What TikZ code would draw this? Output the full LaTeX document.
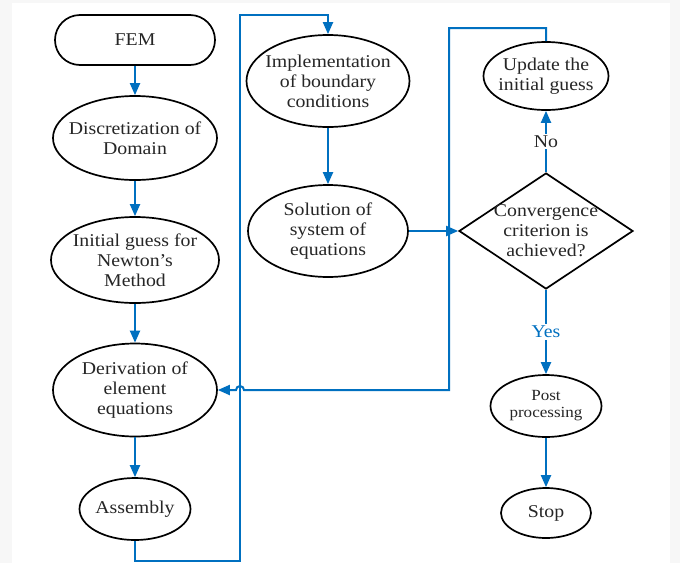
\documentclass[tikz,border=0pt]{standalone}
\usepackage{fontspec}
\setmainfont{Liberation Serif}[FakeStretch=1.1]
\usetikzlibrary{arrows.meta}
\usetikzlibrary{positioning}
\usetikzlibrary{shapes}
\definecolor{flowBlue}{RGB}{0,112,192}

\begin{document}
\begin{tikzpicture}[x=1pt,y=1pt,
    oval/.style={draw,ellipse,line width=1.7pt,inner sep=-30pt,align=center,text=black!85,font=\fontsize{18}{20}\selectfont},
    arrowLine/.style={draw=flowBlue,line width=2pt,-{Triangle[length=12pt,width=10pt]}}]
          \fill[gray!6] (0,0) rectangle (680,-563);
          \fill[white] (12,-3) rectangle (670,-563);
          \useasboundingbox (0,0) rectangle (680,-563);
          % first column
          \node[draw,rectangle,rounded corners=25pt,line width=1.7pt,minimum width=160pt,minimum height=50pt,text=black!85,font=\fontsize{18}{20}\selectfont] (fem) at (135,-40) {FEM};
          \node[oval,below of=fem,node distance=98pt,minimum width=164pt,minimum height=84pt] (discretization) {Discretization of\\Domain};
          \node[oval,below of=discretization,node distance=122pt,minimum width=168pt,minimum height=86pt] (initialGuess) {Initial guess for\\Newton's\\Method};
          \node[oval,below of=initialGuess,node distance=130pt,minimum width=164pt,minimum height=93pt] (derivation) {Derivation of\\element\\equations};
          \node[oval,below of=derivation,node distance=119pt,minimum width=111pt,minimum height=62pt] (assembly) {Assembly};
          % second column
          \node[oval,minimum width=163pt,minimum height=92pt] (boundaryCond) at (328,-81) {Implementation\\of boundary\\conditions};
          \node[oval,below of=boundaryCond,node distance=150pt,minimum width=160pt,minimum height=92pt] (solution) {Solution of\\system of\\equations};
          % third column
          \node[oval,minimum width=125pt,minimum height=68pt] (updateGuess) at (546,-76) {Update the\\initial guess};
          \node[oval,diamond,below of=updateGuess,node distance=155pt,minimum width=174pt,minimum height=116pt] (convergence) {Convergence\\criterion is\\achieved?};
          \node[oval,below of=convergence,node distance=175pt,minimum width=111pt,minimum height=62pt,font=\fontsize{15.5}{17}\selectfont] (postProcessing) {Post\\processing};
          \node[oval,below of=postProcessing,node distance=107pt,minimum width=90pt,minimum height=50pt] (stop) {Stop};
          % connectors
          \draw[arrowLine] (fem) -- (discretization);
          \draw[arrowLine] (discretization) -- (initialGuess);
          \draw[arrowLine] (initialGuess) -- (derivation);
          \draw[arrowLine] (derivation) -- (assembly);
          \draw[arrowLine] (assembly.south) |- (240,-561) -- (240,-15) -| (boundaryCond.north);
          \draw[arrowLine] (boundaryCond) -- (solution);
          \draw[arrowLine] (solution.east) -- (convergence.west);
          \draw[arrowLine] (convergence.north) -- node[fill=white,inner sep=2pt,text=black!85,font=\fontsize{18}{20}\selectfont] {No} (updateGuess.south);
          \draw[arrowLine] (updateGuess.north) |- (449,-28) -- (449,-390) -- (244,-390) arc[start angle=0,end angle=180,radius=4pt] -- (derivation.east);
          \draw[arrowLine] (convergence.south) -- node[fill=white,inner sep=2pt,text=flowBlue,font=\fontsize{18}{20}\selectfont] {Yes} (postProcessing.north);
          \draw[arrowLine] (postProcessing) -- (stop);
        \end{tikzpicture}
\end{document}
